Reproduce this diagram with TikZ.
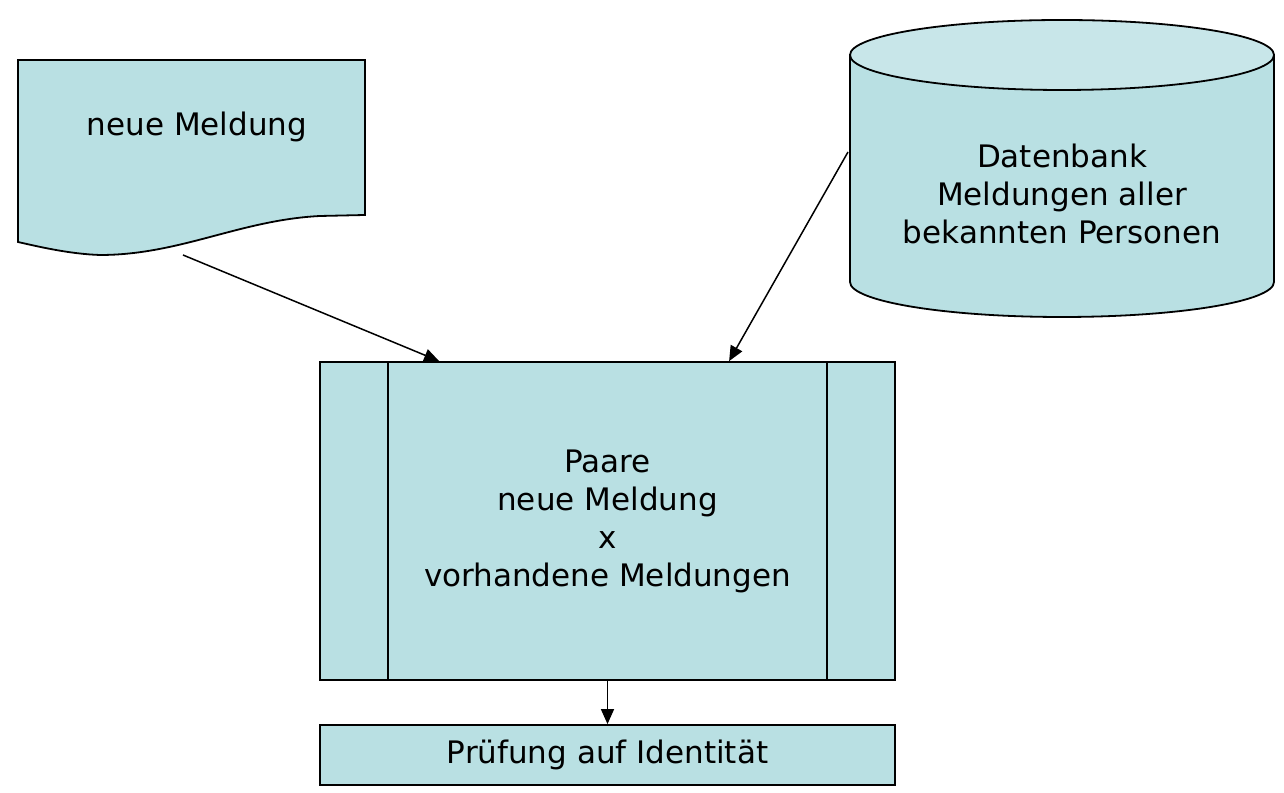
\documentclass[tikz,border=0pt]{standalone}
\usepackage{fontspec}
\setmainfont{DejaVu Sans}
\usetikzlibrary{arrows.meta,calc}

\definecolor{boxfill}{RGB}{185,224,227}
\definecolor{topfill}{RGB}{200,230,233}

\tikzset{
	outline/.style={draw=black,line width=1.8pt,fill=boxfill},
	procbox/.style={outline,inner sep=0pt,align=center},
	flow/.style={-{Triangle[length=15pt,width=13pt]},line width=1.5pt}
}

\begin{document}
\begin{tikzpicture}[x=1pt,y=1pt,font=\fontsize{31}{38}\selectfont]
			\useasboundingbox (0,0) rectangle (1284,792);
			% document shape
			\draw[outline] (18,732) -- (365,732) -- (365,577) -- (320,576)
			.. controls (240,572) and (180,537) .. (100,537)
			.. controls (70,538) and (40,545) .. (18,550) -- cycle;
			\node (msg) at (197,665) {neue Meldung};
			\coordinate (msgout) at (183,537);
			% database
			\draw[outline] (850,737) -- (850,510)
			arc[start angle=180,end angle=360,x radius=212pt,y radius=35pt]
			-- (1274,737) -- cycle;
			\draw[outline,fill=topfill] (1062,737) ellipse[x radius=212pt,y radius=35pt];
			\node[align=center] (db) at (1062,598) {Datenbank\\Meldungen aller\\bekannten Personen};
			\coordinate (dbout) at (848,640);
			% predefined process
			\node[procbox,minimum width=575pt,minimum height=318pt] (pairs) at (607.5,271)
			{Paare\\neue Meldung\\x\\vorhandene Meldungen};
			\draw[line width=1.8pt] ($(pairs.north west)+(69,0)$) -- ($(pairs.south west)+(69,0)$);
			\draw[line width=1.8pt] ($(pairs.north east)+(-69,0)$) -- ($(pairs.south east)+(-69,0)$);
			% check
			\node[procbox,minimum width=575pt,minimum height=60pt] (check) at (607.5,37) {Prüfung auf Identität};
			% connectors
			\draw[flow] (msgout) -- ($(pairs.north west)+(120,0)$);
			\draw[flow] (dbout) -- ($(pairs.north west)+(410,0)$);
			\draw[flow] (pairs.south) -- (check.north);
\end{tikzpicture}
\end{document}
